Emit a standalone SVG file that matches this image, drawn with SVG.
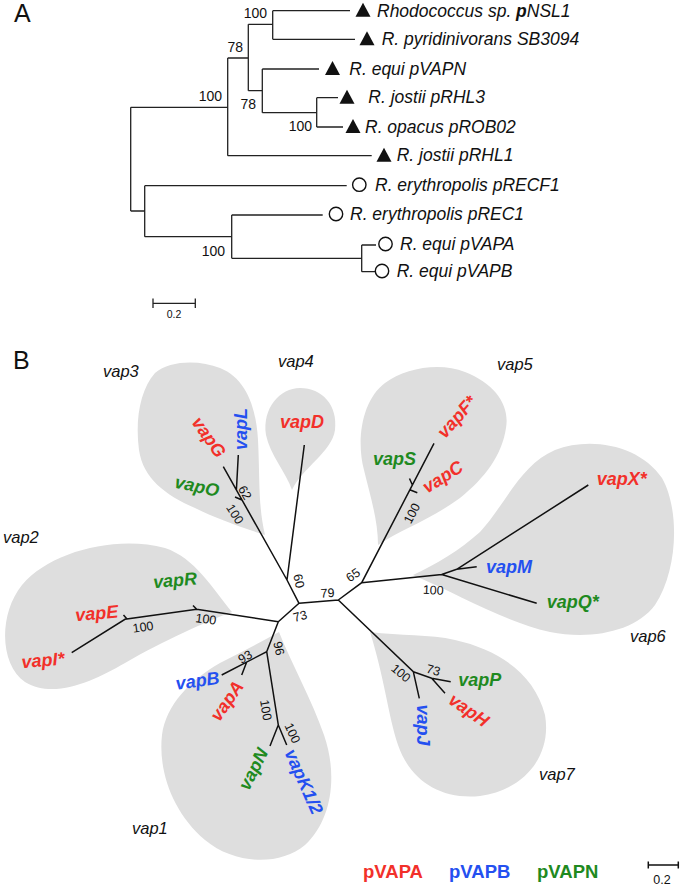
<svg xmlns="http://www.w3.org/2000/svg" xmlns:xlink="http://www.w3.org/1999/xlink" width="680" height="886" viewBox="0 0 680 886">
<style>
text{font-family:"Liberation Sans",Arial,sans-serif;}
.panel{font-size:25px;fill:#111;}
.leaf{font-size:17.5px;font-style:italic;fill:#111;}
.bs{font-size:14px;fill:#111;}
.bsb{font-size:12.5px;fill:#111;}
.sc{font-size:10.5px;fill:#111;}
.clade{font-size:16.5px;font-style:italic;fill:#111;}
.gene{font-size:18px;font-style:italic;font-weight:bold;}
.leg{font-size:18.5px;font-weight:bold;}
.r{fill:#f2302a;} .b{fill:#2450f0;} .g{fill:#1f8a1f;}
.tree{fill:none;stroke:#222;stroke-width:1.3;}
.treeb{fill:none;stroke:#111;stroke-width:1.5;}
.blob{fill:#dedede;stroke:none;}
</style>
<defs>
<path id="tri" d="M-7.5,6 L7.5,6 L0,-8 Z" fill="#111"/>
<circle id="circ" r="6.7" fill="none" stroke="#111" stroke-width="1.4"/>
</defs>
<rect width="680" height="886" fill="#fff"/>

<text class="panel" x="14" y="22">A</text>
<text class="panel" x="13" y="369">B</text>

<!-- Panel A connectors -->
<g id="connectorsA" class="tree">
<path d="M272.7,10.7 V39.3 M272.7,10.7 H350 M272.7,39.3 H355
M248.3,24.3 H272.7 M248.3,24.3 V90.7 M248.3,90.7 H262.3 M262.3,69 V112.7 M262.3,69 H319 M262.3,112.7 H316.7
M316.7,97.7 V127 M316.7,97.7 H338 M316.7,127 H343
M227.7,58 H248.3 M227.7,58 V155.7 M227.7,155.7 H371.7
M130.7,107.3 H227.7 M130.7,107.3 V211 M130.7,211 H144.7 M144.7,185.7 V236.7 M144.7,185.7 H346.7 M144.7,236.7 H231.7
M231.7,215 V258.3 M231.7,215 H322.7 M231.7,258.3 H361.7 M361.7,245 V271.7 M361.7,245 H376 M361.7,271.7 H375"/>
<path d="M153,303.3 H195.3 M153,298.5 V308 M195.3,298.5 V308"/>
</g>
<g id="bootstrapA">
<text class="bs" x="267" y="18" text-anchor="end">100</text>
<text class="bs" x="243" y="52" text-anchor="end">78</text>
<text class="bs" x="222" y="101" text-anchor="end">100</text>
<text class="bs" x="256" y="109" text-anchor="end">78</text>
<text class="bs" x="312" y="131" text-anchor="end">100</text>
<text class="bs" x="225" y="256" text-anchor="end">100</text>
<text class="sc" x="174" y="318" text-anchor="middle">0.2</text>
</g>
<g id="leafA1"><use xlink:href="#tri" x="363" y="10.7"/><text class="leaf" x="377" y="16.5">Rhodococcus sp. <tspan font-weight="bold">p</tspan>NSL1</text></g>
<g id="leafA2"><use xlink:href="#tri" x="367" y="39.3"/><text class="leaf" x="381.7" y="45">R. pyridinivorans SB3094</text></g>
<g id="leafA3"><use xlink:href="#tri" x="332.5" y="69"/><text class="leaf" x="349.3" y="74.5">R. equi pVAPN</text></g>
<g id="leafA4"><use xlink:href="#tri" x="347" y="97.7"/><text class="leaf" x="368.3" y="103">R. jostii pRHL3</text></g>
<g id="leafA5"><use xlink:href="#tri" x="353" y="127"/><text class="leaf" x="365" y="132.5">R. opacus pROB02</text></g>
<g id="leafA6"><use xlink:href="#tri" x="384" y="155.7"/><text class="leaf" x="396.7" y="161">R. jostii pRHL1</text></g>
<g id="leafA7"><use xlink:href="#circ" x="359.3" y="184.7"/><text class="leaf" x="375" y="190.5">R. erythropolis pRECF1</text></g>
<g id="leafA8"><use xlink:href="#circ" x="336" y="214"/><text class="leaf" x="350" y="220">R. erythropolis pREC1</text></g>
<g id="leafA9"><use xlink:href="#circ" x="385.5" y="244"/><text class="leaf" x="400" y="250">R. equi pVAPA</text></g>
<g id="leafA10"><use xlink:href="#circ" x="382" y="271"/><text class="leaf" x="396.7" y="277">R. equi pVAPB</text></g>

<!-- Panel B clade shading -->
<g id="clade-vap3"><path class="blob" d="M265,535 C240,527 215,518 195,508 C165,495 143,478 139,450 C135,420 140,390 155,373 C170,360 200,360 220,368 C245,378 256,405 258,440 C260,480 258,505 265,535 Z"/><text class="clade" x="103" y="377">vap3</text></g>
<g id="clade-vap4"><path class="blob" d="M292,490 C286,472 270,455 266,435 C262,408 280,388 300,388 C322,388 338,405 335,430 C332,452 302,468 292,490 Z"/><text class="clade" x="278" y="367">vap4</text></g>
<g id="clade-vap5"><path class="blob" d="M378,545 C378,520 370,495 364,470 C356,440 362,400 385,383 C405,368 440,362 465,372 C495,384 510,405 506,428 C502,455 485,478 460,498 C430,520 400,530 378,545 Z"/><text class="clade" x="497" y="370">vap5</text></g>
<g id="clade-vap6"><path class="blob" d="M413,575 C435,565 460,550 480,532 C505,505 520,465 555,450 C590,436 640,445 662,478 C680,510 678,570 655,605 C635,632 590,640 550,632 C505,622 460,595 413,575 Z"/><text class="clade" x="630" y="642">vap6</text></g>
<g id="clade-vap7"><path class="blob" d="M370,632 C400,636 430,634 455,640 C500,650 535,675 545,715 C552,755 525,790 480,796 C440,800 410,780 398,745 C388,715 385,680 370,632 Z"/><text class="clade" x="539" y="780">vap7</text></g>
<g id="clade-vap1"><path class="blob" d="M279,632 C292,665 312,700 324,735 C338,775 332,820 305,845 C280,866 235,865 205,840 C172,812 158,770 162,735 C166,705 190,680 220,663 C245,650 265,640 279,632 Z"/><text class="clade" x="132" y="834">vap1</text></g>
<g id="clade-vap2"><path class="blob" d="M232,612 C205,622 165,640 125,663 C95,680 55,700 25,682 C0,665 -2,615 22,585 C50,552 115,535 165,548 C195,558 212,588 232,612 Z"/><text class="clade" x="3" y="543">vap2</text></g>

<!-- Panel B connectors -->
<g id="connectorsB" class="treeb">
<path d="M299,603.3 L338.3,600 M299,603.3 L287,580 M299,603.3 L278.3,621.7
M287,580 L223.3,466.7 M242,500 L235,497 M236.4,490 L238.3,455 M287,580 L304.3,445
M278.3,621.7 L266.7,651.7 L221.7,675 M246.7,662 L241.7,675 M266.7,651.7 L278.3,725 L270,746 M278.3,725 L286.7,745
M278.3,621.7 L196.7,609.3 L125,619.3 L71.7,652.7 M196.7,609.3 L193,605.5 M127,619 L123.5,615
M338.3,600 L361.7,582.7 L434,443.3 M412.4,485 L409.5,478.5 M410.4,490 L417.3,492.7
M361.7,582.7 L441.7,574.5 L456.7,569.3 L476.7,566.7 M456.7,569.3 L588.3,485 M441.7,574.5 L536.7,603.3
M338.3,600 L413.3,671.7 L419.3,698.3 M413.3,671.7 L431.7,678.3 L450.7,681.7 M431.7,678.3 L445,693.3"/>
<path d="M648.3,865 H678.3 M648.3,861.5 V868.5 M678.3,861.5 V868.5"/>
</g>
<g id="bootstrapB">
<text class="bsb" transform="translate(235,514) rotate(58)" text-anchor="middle" dy="0.35em">100</text>
<text class="bsb" transform="translate(245,492.5) rotate(60)" text-anchor="middle" dy="0.35em">62</text>
<text class="bsb" transform="translate(299,581) rotate(78)" text-anchor="middle" dy="0.35em">60</text>
<text class="bsb" transform="translate(300,616) rotate(-15)" text-anchor="middle" dy="0.35em">73</text>
<text class="bsb" transform="translate(327.5,593) rotate(-3)" text-anchor="middle" dy="0.35em">79</text>
<text class="bsb" transform="translate(353,575) rotate(-35)" text-anchor="middle" dy="0.35em">65</text>
<text class="bsb" transform="translate(411.7,513.3) rotate(-62)" text-anchor="middle" dy="0.35em">100</text>
<text class="bsb" transform="translate(433.3,590) rotate(3)" text-anchor="middle" dy="0.35em">100</text>
<text class="bsb" transform="translate(401,673) rotate(40)" text-anchor="middle" dy="0.35em">100</text>
<text class="bsb" transform="translate(433.3,670) rotate(15)" text-anchor="middle" dy="0.35em">73</text>
<text class="bsb" transform="translate(245,656.7) rotate(-30)" text-anchor="middle" dy="0.35em">93</text>
<text class="bsb" transform="translate(279,648.3) rotate(78)" text-anchor="middle" dy="0.35em">96</text>
<text class="bsb" transform="translate(266,710) rotate(80)" text-anchor="middle" dy="0.35em">100</text>
<text class="bsb" transform="translate(292.5,733) rotate(65)" text-anchor="middle" dy="0.35em">100</text>
<text class="bsb" transform="translate(206,619) rotate(8)" text-anchor="middle" dy="0.35em">100</text>
<text class="bsb" transform="translate(143,627) rotate(-8)" text-anchor="middle" dy="0.35em">100</text>
<text class="bsb" x="662" y="884" text-anchor="middle">0.2</text>
</g>
<g id="gene-vapG"><text class="gene r" transform="translate(209,437) rotate(55)" text-anchor="middle" dy="0.35em">vapG</text></g>
<g id="gene-vapL"><text class="gene b" transform="translate(240.5,429) rotate(-90)" text-anchor="middle" dy="0.35em">vapL</text></g>
<g id="gene-vapO"><text class="gene g" transform="translate(197,486) rotate(12)" text-anchor="middle" dy="0.35em">vapO</text></g>
<g id="gene-vapD"><text class="gene r" x="280" y="428">vapD</text></g>
<g id="gene-vapF"><text class="gene r" transform="translate(456.7,416.7) rotate(-48)" text-anchor="middle" dy="0.35em">vapF*</text></g>
<g id="gene-vapS"><text class="gene g" x="373" y="465">vapS</text></g>
<g id="gene-vapC"><text class="gene r" transform="translate(442.5,476.7) rotate(-32)" text-anchor="middle" dy="0.35em">vapC</text></g>
<g id="gene-vapX"><text class="gene r" x="596.7" y="485">vapX*</text></g>
<g id="gene-vapM"><text class="gene b" x="486" y="573">vapM</text></g>
<g id="gene-vapQ"><text class="gene g" x="546.7" y="608">vapQ*</text></g>
<g id="gene-vapP"><text class="gene g" x="458.3" y="686">vapP</text></g>
<g id="gene-vapH"><text class="gene r" transform="translate(469,710) rotate(35)" text-anchor="middle" dy="0.35em">vapH</text></g>
<g id="gene-vapJ"><text class="gene b" transform="translate(423.3,725) rotate(90)" text-anchor="middle" dy="0.35em">vapJ</text></g>
<g id="gene-vapB"><text class="gene b" transform="translate(197.5,680.5) rotate(-8)" text-anchor="middle" dy="0.35em">vapB</text></g>
<g id="gene-vapA"><text class="gene r" transform="translate(226.7,700.8) rotate(-55)" text-anchor="middle" dy="0.35em">vapA</text></g>
<g id="gene-vapN"><text class="gene g" transform="translate(253,769) rotate(-63)" text-anchor="middle" dy="0.35em">vapN</text></g>
<g id="gene-vapK"><text class="gene b" transform="translate(304,781.5) rotate(66)" text-anchor="middle" dy="0.35em">vapK1/2</text></g>
<g id="gene-vapR"><text class="gene g" transform="translate(175,580) rotate(-5)" text-anchor="middle" dy="0.35em">vapR</text></g>
<g id="gene-vapE"><text class="gene r" transform="translate(96.7,613) rotate(-5)" text-anchor="middle" dy="0.35em">vapE</text></g>
<g id="gene-vapI"><text class="gene r" transform="translate(43,660) rotate(-5)" text-anchor="middle" dy="0.35em">vapI*</text></g>

<g id="legend">
<text class="leg r" x="363" y="878">pVAPA</text>
<text class="leg b" x="449" y="878">pVAPB</text>
<text class="leg g" x="537" y="878">pVAPN</text>
</g>
</svg>
